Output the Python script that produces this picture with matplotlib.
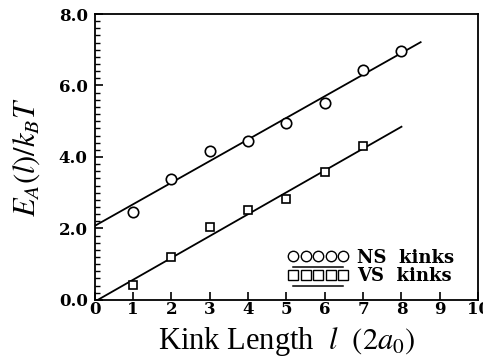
import numpy as np
import matplotlib
matplotlib.use("Agg")
import matplotlib.pyplot as plt
from matplotlib.lines import Line2D
from matplotlib.legend_handler import HandlerLine2D
from matplotlib.ticker import MultipleLocator, FormatStrFormatter

plt.rcParams['mathtext.fontset'] = 'stix'

# Datos
ns_x = [1, 2, 3, 4, 5, 6, 7, 8]
ns_y = [2.46, 3.38, 4.17, 4.44, 4.94, 5.52, 6.44, 6.97]
vs_x = [1, 2, 3, 4, 5, 6, 7]
vs_y = [0.42, 1.20, 2.04, 2.52, 2.83, 3.57, 4.32]

# Ajustes lineales (pendiente, ordenada) y rango dibujado
ns_fit = (0.605, 2.07)
ns_range = (0.0, 8.5)
vs_fit = (0.612, -0.05)
vs_range = (0.08, 8.0)


class UnderlineHandler(HandlerLine2D):
    # marcadores en fila con una linea subrayada debajo
    def create_artists(self, legend, orig_handle, xdescent, ydescent,
                       width, height, fontsize, trans):
        xdata, xdata_marker = self.get_xdata(legend, xdescent, ydescent,
                                             width, height, fontsize)
        yc = (height - ydescent) / 2
        yl = yc - 0.58 * fontsize
        line = Line2D([xdata_marker[0], xdata_marker[-1]], [yl, yl],
                      color='black', lw=1.1)
        marks = Line2D(xdata_marker, [yc] * len(xdata_marker), ls='None',
                       marker=orig_handle.get_marker(),
                       ms=orig_handle.get_markersize(), mfc='white',
                       mec='black', mew=1)
        line.set_transform(trans)
        marks.set_transform(trans)
        return [line, marks]


fig = plt.figure(figsize=(4.83, 3.6), dpi=100)
ax = fig.add_axes([0.196, 0.167, 0.794, 0.794])

xs = np.array(ns_range)
ax.plot(xs, ns_fit[0] * xs + ns_fit[1], color='black', lw=1.3)
xs = np.array(vs_range)
ax.plot(xs, vs_fit[0] * xs + vs_fit[1], color='black', lw=1.3)

ax.plot(ns_x, ns_y, 'o', ms=7.5, mfc='white', mec='black', mew=1.2)
ax.plot(vs_x, vs_y, 's', ms=6.2, mfc='white', mec='black', mew=1.2)

ax.set_xlim(0, 10)
ax.set_ylim(0, 8)
ax.xaxis.set_major_locator(MultipleLocator(1))
ax.yaxis.set_major_locator(MultipleLocator(2))
ax.yaxis.set_minor_locator(MultipleLocator(0.2))
ax.yaxis.set_major_formatter(FormatStrFormatter('%.1f'))
ax.tick_params(axis='both', which='major', direction='in', length=6, width=1.2,
               top=False, right=False, labelsize=12)
ax.tick_params(axis='y', which='minor', direction='in', length=3.5, width=1)
ax.tick_params(axis='x', pad=1)
ax.tick_params(axis='y', pad=5)
for lab in ax.get_xticklabels() + ax.get_yticklabels():
    lab.set_fontfamily('DejaVu Serif')
    lab.set_fontweight('bold')
for s in ax.spines.values():
    s.set_linewidth(1.3)

ax.set_xlabel(r'Kink Length  $l$  $(2a_0)$', fontsize=22, family='Liberation Serif',
              labelpad=5)
ax.set_ylabel(r'$E_A(l)/k_BT$', fontsize=22, labelpad=12)

h_ns = Line2D([], [], color='black', lw=1, marker='o', ms=7.5, mfc='white',
              mec='black', mew=1)
h_vs = Line2D([], [], color='black', lw=1, marker='s', ms=6.5, mfc='white',
              mec='black', mew=1)
leg = ax.legend([h_ns, h_vs], ['NS  kinks', 'VS  kinks'], numpoints=5,
                handler_map={Line2D: UnderlineHandler()},
                loc='center left', bbox_to_anchor=(0.504, 0.115),
                frameon=False, handlelength=3.37, handletextpad=0.45,
                labelspacing=0.05, borderpad=0, borderaxespad=0,
                prop={'family': 'DejaVu Serif', 'size': 13, 'weight': 'bold'})

fig.savefig('out.png', dpi=100)
